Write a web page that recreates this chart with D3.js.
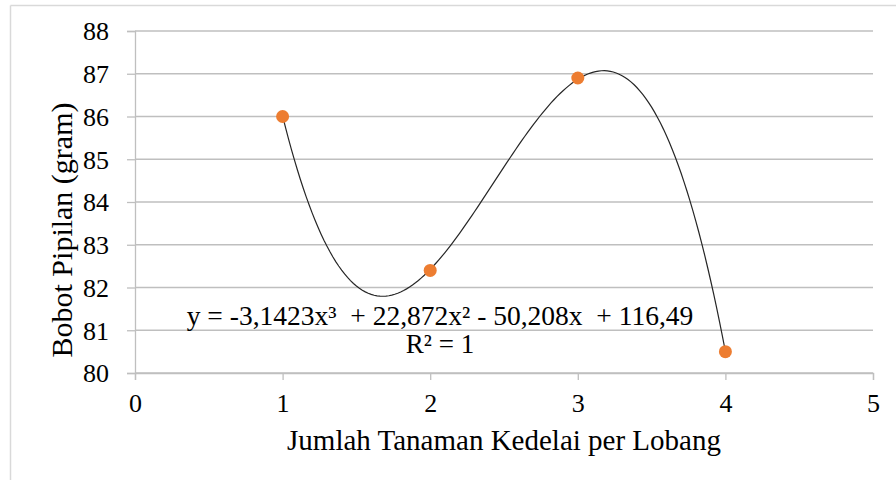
<!DOCTYPE html>
<html>
<head>
<meta charset="utf-8">
<script src="https://cdn.jsdelivr.net/npm/d3@7/dist/d3.min.js"></script>
<style>
body{margin:0;background:#fff;}
</style>
</head>
<body>
<svg id="chart" width="896" height="480"></svg>
<script>
// data
var xVals=[1,2,3,4];
var yVals=[86,82.4,86.9,80.5];
var xTicks=[0,1,2,3,4,5];
var yTicks=[80,81,82,83,84,85,86,87,88];
// trendline coefficients shown on the chart (x^3, x^2, x, const)
var coef=[-3.1423,22.872,-50.208,116.49];
var eqText="y = -3,1423x\u00B3  + 22,872x\u00B2 - 50,208x  + 116,49";
var r2Text="R\u00B2 = 1";

var serif="'Liberation Serif', Tinos, 'Times New Roman', Times, 'DejaVu Serif', serif";

var svg=d3.select("#chart");
var plot={left:135,right:873,top:31,bottom:373};

// outer chart frame
svg.append("line").attr("x1",10.5).attr("x2",10.5).attr("y1",5.5).attr("y2",480)
    .attr("stroke","#d9d9d9").attr("stroke-width",1.5);
svg.append("line").attr("x1",10.5).attr("x2",896).attr("y1",5.5).attr("y2",5.5)
    .attr("stroke","#d9d9d9").attr("stroke-width",1.5);

var x=d3.scaleLinear().domain([0,5]).range([plot.left,plot.right]);
var y=d3.scaleLinear().domain([80,88]).range([plot.bottom,plot.top]);

// gridlines
svg.append("g").selectAll("line").data(yTicks).enter().append("line")
    .attr("x1",plot.left).attr("x2",plot.right)
    .attr("y1",function(d){return y(d)}).attr("y2",function(d){return y(d)})
    .attr("stroke","#bfbfbf").attr("stroke-width",1.3);

// axes
var yAxis=svg.append("g").attr("transform","translate("+plot.left+",0)")
    .call(d3.axisLeft(y).tickValues(yTicks).tickSize(8).tickPadding(18).tickFormat(d3.format("d")));
var xAxis=svg.append("g").attr("transform","translate(0,"+plot.bottom+")")
    .call(d3.axisBottom(x).tickValues(xTicks).tickSize(7).tickPadding(14).tickFormat(d3.format("d")));
[yAxis,xAxis].forEach(function(a){
    a.attr("font-family",null).attr("font-size",null);
    a.select(".domain").attr("stroke","#bfbfbf").attr("stroke-width",1.3);
    a.selectAll(".tick line").attr("stroke","#bfbfbf").attr("stroke-width",1.3);
    a.selectAll(".tick text").style("font-family",serif).style("font-size","26px").attr("fill","#000");
});
yAxis.selectAll(".tick text").attr("dy","0.34em");

// trendline from the chart's equation
var curveX=d3.range(xVals[0],xVals[xVals.length-1]+0.0001,0.02);
var poly=function(t){return coef[0]*t*t*t+coef[1]*t*t+coef[2]*t+coef[3]};
svg.append("path").datum(curveX)
    .attr("d",d3.line().x(function(d){return x(d)}).y(function(d){return y(poly(d))}))
    .attr("fill","none").attr("stroke","#262626").attr("stroke-width",1.2);

// points
svg.append("g").selectAll("circle").data(xVals).enter().append("circle")
    .attr("cx",function(d){return x(d)})
    .attr("cy",function(d,i){return y(yVals[i])})
    .attr("r",6.5).attr("fill","#ed7d31");

// equation labels
svg.append("text").attr("x",440).attr("y",325).attr("text-anchor","middle")
    .style("font-family",serif).style("font-size","27.5px").style("white-space","pre").text(eqText);
svg.append("text").attr("x",440).attr("y",353).attr("text-anchor","middle")
    .style("font-family",serif).style("font-size","27px").text(r2Text);

// axis titles
svg.append("text").attr("x",504).attr("y",450).attr("text-anchor","middle")
    .style("font-family",serif).style("font-size","29px").text("Jumlah Tanaman Kedelai per Lobang");
svg.append("text").attr("transform","translate(72,230) rotate(-90)").attr("text-anchor","middle")
    .style("font-family",serif).style("font-size","30px").text("Bobot Pipilan (gram)");
</script>
</body>
</html>
